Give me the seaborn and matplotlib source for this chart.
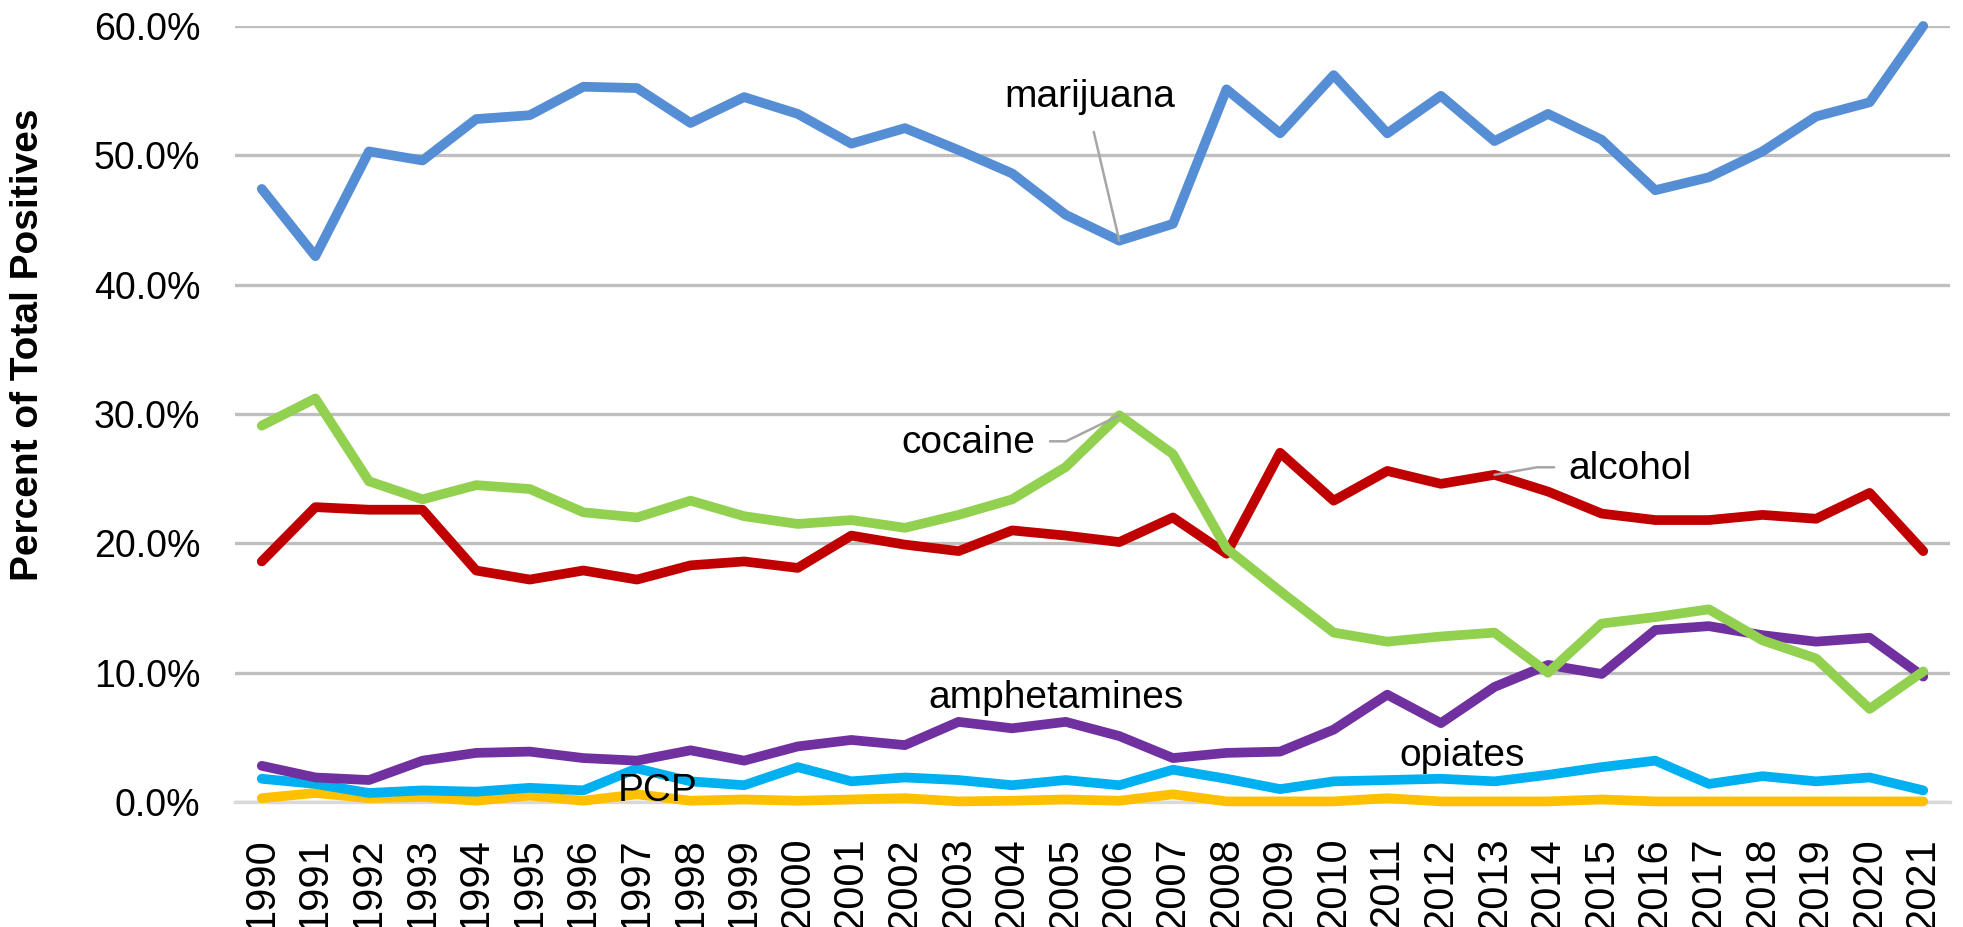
import matplotlib
matplotlib.use("Agg")
import matplotlib.pyplot as plt
import seaborn as sns
import pandas as pd
from matplotlib.ticker import PercentFormatter

years = list(range(1990, 2022))

marijuana = [47.4, 42.2, 50.3, 49.6, 52.8, 53.1, 55.3, 55.2, 52.5, 54.5, 53.2, 50.9, 52.1, 50.4,
             48.6, 45.4, 43.4, 44.7, 55.1, 51.7, 56.2, 51.7, 54.6, 51.1, 53.2, 51.2, 47.3, 48.3,
             50.3, 53.0, 54.1, 60.0]
cocaine = [29.1, 31.2, 24.8, 23.4, 24.5, 24.2, 22.4, 22.0, 23.3, 22.1, 21.5, 21.8, 21.2, 22.2,
           23.4, 25.9, 29.9, 26.9, 19.6, 16.3, 13.1, 12.4, 12.8, 13.1, 10.0, 13.8, 14.3, 14.9,
           12.5, 11.1, 7.2, 10.1]
alcohol = [18.6, 22.8, 22.6, 22.6, 17.9, 17.2, 17.9, 17.2, 18.3, 18.6, 18.1, 20.6, 19.9, 19.4,
           21.0, 20.6, 20.1, 22.0, 19.2, 27.0, 23.3, 25.6, 24.6, 25.3, 24.0, 22.3, 21.8, 21.8,
           22.2, 21.9, 23.9, 19.4]
amphetamines = [2.8, 1.9, 1.7, 3.2, 3.8, 3.9, 3.4, 3.2, 4.0, 3.2, 4.3, 4.8, 4.4, 6.2,
                5.7, 6.2, 5.1, 3.4, 3.8, 3.9, 5.6, 8.3, 6.1, 8.9, 10.6, 9.9, 13.3, 13.6,
                12.9, 12.4, 12.7, 9.7]
opiates = [1.8, 1.4, 0.7, 0.9, 0.8, 1.1, 0.9, 2.6, 1.6, 1.3, 2.7, 1.6, 1.9, 1.7,
           1.3, 1.7, 1.3, 2.5, 1.8, 1.0, 1.6, 1.7, 1.8, 1.6, 2.1, 2.7, 3.2, 1.4,
           2.0, 1.6, 1.9, 0.9]
pcp = [0.3, 0.7, 0.3, 0.4, 0.1, 0.5, 0.1, 0.6, 0.1, 0.2, 0.1, 0.2, 0.3, 0.05,
       0.1, 0.2, 0.1, 0.6, 0.05, 0.05, 0.05, 0.3, 0.05, 0.05, 0.05, 0.2, 0.05, 0.05,
       0.05, 0.05, 0.05, 0.05]

drugs = ["marijuana", "cocaine", "alcohol", "amphetamines", "opiates", "PCP"]
colors = ["#558ED5", "#92D050", "#C00000", "#7030A0", "#00B0F0", "#FFC000"]
series = [marijuana, cocaine, alcohol, amphetamines, opiates, pcp]

rows = []
for name, vals in zip(drugs, series):
    for y, v in zip(years, vals):
        rows.append({"year": y, "drug": name, "pct": v / 100})
df = pd.DataFrame(rows)

sns.set_style("white")
plt.rcParams["font.family"] = ["Liberation Sans", "DejaVu Sans"]
plt.rcParams["text.color"] = "black"
plt.rcParams["xtick.color"] = "black"
plt.rcParams["ytick.color"] = "black"

fig = plt.figure(figsize=(19.63, 9.27), dpi=100)
ax = fig.add_axes([0.1197, 0.1348, 0.8737, 0.8372])

# PCP first so the others sit on top, like the original
order = drugs[::-1]
sns.lineplot(data=df, x="year", y="pct", hue="drug", hue_order=order,
             palette=dict(zip(drugs, colors)), legend=False, ax=ax)
for ln in ax.get_lines():
    ln.set_linewidth(7)
    ln.set_clip_on(False)
    ln.set_zorder(3)
    ln.set_solid_capstyle("round")

ax.set_xlim(1989.5, 2021.5)
ax.set_ylim(0, 0.6)
ax.set_yticks([0, 0.1, 0.2, 0.3, 0.4, 0.5, 0.6])
ax.yaxis.set_major_formatter(PercentFormatter(1.0, decimals=1))
ax.set_xticks(years)
ax.set_xticklabels([str(y) for y in years], rotation=90)
ax.yaxis.grid(True, color="#BFBFBF", linewidth=2.4, zorder=0)
ax.set_axisbelow(True)
for s in ["top", "right", "left"]:
    ax.spines[s].set_visible(False)
ax.spines["bottom"].set_color("#D9D9D9")
ax.spines["bottom"].set_linewidth(2.4)
ax.tick_params(axis="y", length=0, pad=25, labelsize=27, labelcolor="black")
ax.tick_params(axis="x", length=0, pad=25, labelsize=30, labelcolor="black")
ax.set_xlabel("")
ax.set_ylabel("")

fig.text(0.0143, 0.628, "Percent of Total Positives", rotation=90, ha="center",
         va="center", fontsize=28, fontweight="bold", color="black")

lead = dict(arrowstyle="-", color="#A6A6A6", lw=1.8, shrinkA=0, shrinkB=0)
i06 = years.index(2006)
i13 = years.index(2013)
ax.annotate("marijuana", xy=(2006, marijuana[i06] / 100), xytext=(2005.45, 0.545),
            ha="center", va="center", fontsize=28,
            arrowprops=dict(lead, relpos=(0.5, 0.0), shrinkA=10))
ax.annotate("cocaine", xy=(2006, cocaine[i06] / 100), xytext=(2003.19, 0.2775),
            ha="center", va="center", fontsize=28,
            arrowprops=dict(lead, relpos=(1.0, 0.55), shrinkA=8,
                            connectionstyle="angle,angleA=0,angleB=26,rad=0"))
ax.annotate("alcohol", xy=(2013, alcohol[i13] / 100), xytext=(2015.53, 0.2574),
            ha="center", va="center", fontsize=28,
            arrowprops=dict(lead, relpos=(0.0, 0.55), shrinkA=8,
                            connectionstyle="angle,angleA=0,angleB=10,rad=0"))
ax.text(2004.82, 0.0803, "amphetamines", ha="center", va="center", fontsize=28)
ax.text(2012.39, 0.0354, "opiates", ha="center", va="center", fontsize=28)
ax.text(1997.39, 0.0084, "PCP", ha="center", va="center", fontsize=28, zorder=4)

fig.savefig("out.png", dpi=100)
